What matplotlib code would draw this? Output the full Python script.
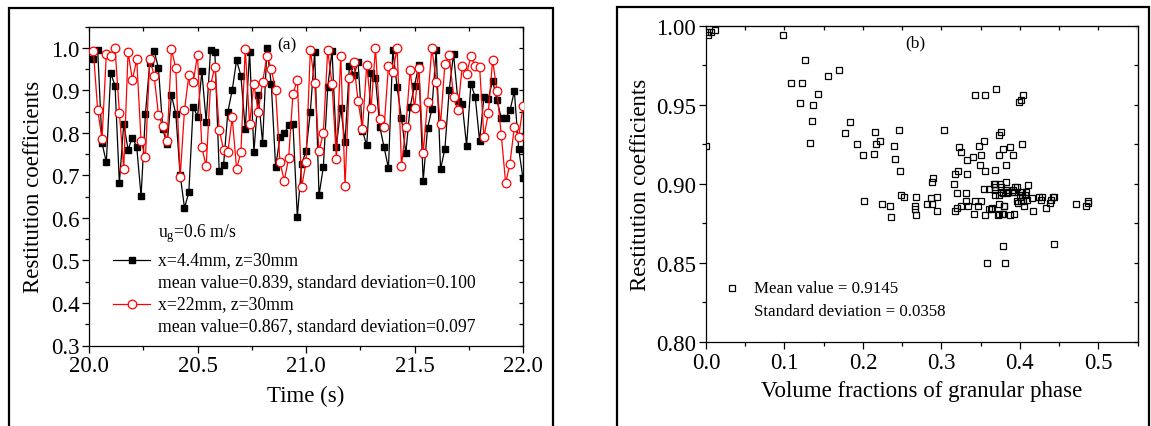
import numpy as np
import matplotlib
matplotlib.use("Agg")
import matplotlib.pyplot as plt
from matplotlib.patches import Rectangle
from matplotlib.ticker import MultipleLocator, FormatStrFormatter

plt.rcParams["font.family"] = ["Liberation Serif", "DejaVu Serif"]
plt.rcParams["mathtext.fontset"] = "custom"
plt.rcParams["mathtext.rm"] = "Liberation Serif"
plt.rcParams["mathtext.it"] = "Liberation Serif:italic"

# ---------------- panel (a): time series ----------------
time = np.round(20.02 + 0.02 * np.arange(100), 2)

coef_x44 = [
    0.974, 0.996, 0.776, 0.731, 0.941, 0.911, 0.682, 0.821, 0.761, 0.789,
    0.767, 0.651, 0.845, 0.965, 0.993, 0.953, 0.809, 0.773, 0.889, 0.845,
    0.702, 0.624, 0.660, 0.862, 0.838, 0.945, 0.826, 0.995, 0.990, 0.710,
    0.724, 0.850, 0.901, 0.971, 0.935, 0.809, 0.991, 0.756, 0.889, 0.776,
    0.999, 0.915, 0.720, 0.790, 0.799, 0.818, 0.821, 0.603, 0.727, 0.757,
    0.850, 0.990, 0.653, 0.721, 0.907, 0.994, 0.768, 0.859, 0.778, 0.958,
    0.937, 0.966, 0.805, 0.771, 0.940, 0.929, 0.815, 0.766, 0.717, 0.996,
    0.907, 0.835, 0.752, 0.862, 0.911, 0.960, 0.687, 0.811, 0.856, 0.996,
    0.715, 0.762, 0.902, 0.986, 0.876, 0.868, 0.770, 0.916, 0.884, 0.781,
    0.885, 0.880, 0.923, 0.877, 0.835, 0.835, 0.853, 0.898, 0.763, 0.693,
]

coef_x22 = [
    0.994, 0.854, 0.786, 0.986, 0.982, 1.000, 0.848, 0.716, 0.990, 0.925,
    0.973, 0.780, 0.743, 0.974, 0.935, 0.843, 0.816, 0.780, 0.997, 0.952,
    0.696, 0.853, 0.936, 0.919, 0.984, 0.766, 0.722, 0.912, 0.956, 0.808,
    0.761, 0.755, 0.837, 0.715, 0.755, 0.998, 0.821, 0.915, 0.850, 0.919,
    0.982, 0.951, 0.900, 0.731, 0.688, 0.741, 0.892, 0.925, 0.673, 0.731,
    0.996, 0.917, 0.758, 0.799, 0.995, 0.915, 0.739, 0.982, 0.676, 0.929,
    0.966, 0.875, 0.810, 0.961, 0.858, 1.000, 0.833, 0.813, 0.958, 0.943,
    1.000, 0.723, 0.813, 0.948, 0.858, 0.952, 0.752, 0.872, 1.000, 0.921,
    0.821, 0.962, 0.984, 0.885, 0.853, 0.958, 0.939, 0.981, 0.957, 0.956,
    0.790, 0.846, 0.972, 0.898, 0.795, 0.682, 0.728, 0.815, 0.790, 0.863,
]

label_x44 = "x=4.4mm, z=30mm"
stats_x44 = "mean value=0.839, standard deviation=0.100"
label_x22 = "x=22mm, z=30mm"
stats_x22 = "mean value=0.867, standard deviation=0.097"
gas_velocity = "u$_\\mathrm{g}$=0.6 m/s"

# ---------------- panel (b): scatter ----------------
vol_frac = [
    0.001, 0.002, 0.007, 0.012, 0.000, 0.098, 0.126, 0.108, 0.123, 0.155,
    0.169, 0.143, 0.120, 0.137, 0.135, 0.132, 0.184, 0.177, 0.192, 0.200,
    0.216, 0.217, 0.222, 0.214, 0.246, 0.240, 0.241, 0.247, 0.303, 0.202,
    0.224, 0.234, 0.236, 0.249, 0.252, 0.266, 0.268, 0.266, 0.268, 0.282,
    0.287, 0.288, 0.288, 0.289, 0.295, 0.295, 0.316, 0.317, 0.321, 0.320,
    0.318, 0.320, 0.325, 0.323, 0.325, 0.333, 0.333, 0.340, 0.348, 0.349,
    0.350, 0.354, 0.356, 0.343, 0.356, 0.370, 0.374, 0.376, 0.373, 0.378,
    0.382, 0.388, 0.391, 0.368, 0.403, 0.399, 0.401, 0.404, 0.332, 0.332,
    0.334, 0.342, 0.343, 0.347, 0.351, 0.354, 0.356, 0.361, 0.363, 0.364,
    0.367, 0.368, 0.368, 0.368, 0.369, 0.372, 0.373, 0.374, 0.375, 0.376,
    0.376, 0.377, 0.378, 0.380, 0.382, 0.383, 0.384, 0.385, 0.388, 0.390,
    0.391, 0.393, 0.394, 0.397, 0.397, 0.398, 0.400, 0.401, 0.403, 0.404,
    0.405, 0.407, 0.408, 0.409, 0.410, 0.417, 0.416, 0.424, 0.427, 0.428,
    0.433, 0.438, 0.440, 0.442, 0.443, 0.444, 0.471, 0.484, 0.487, 0.487,
    0.358, 0.381, 0.378, 0.378, 0.393, 0.361, 0.380, 0.374, 0.401, 0.403,
]

restitution = [
    0.996, 0.994, 0.996, 0.997, 0.924, 0.994, 0.978, 0.964, 0.964, 0.968,
    0.972, 0.957, 0.951, 0.950, 0.940, 0.926, 0.939, 0.932, 0.925, 0.918,
    0.933, 0.925, 0.927, 0.919, 0.934, 0.924, 0.916, 0.908, 0.934, 0.889,
    0.887, 0.886, 0.879, 0.893, 0.892, 0.886, 0.892, 0.884, 0.880, 0.887,
    0.891, 0.887, 0.901, 0.904, 0.892, 0.883, 0.900, 0.906, 0.908, 0.894,
    0.883, 0.885, 0.886, 0.923, 0.920, 0.915, 0.906, 0.917, 0.924, 0.912,
    0.918, 0.927, 0.908, 0.956, 0.956, 0.960, 0.931, 0.933, 0.918, 0.922,
    0.912, 0.923, 0.918, 0.909, 0.925, 0.952, 0.953, 0.956, 0.894, 0.889,
    0.886, 0.881, 0.889, 0.886, 0.889, 0.897, 0.880, 0.884, 0.884, 0.885,
    0.900, 0.898, 0.896, 0.893, 0.900, 0.880, 0.881, 0.887, 0.900, 0.898,
    0.895, 0.881, 0.894, 0.886, 0.901, 0.896, 0.894, 0.895, 0.880, 0.895,
    0.896, 0.881, 0.898, 0.898, 0.889, 0.888, 0.892, 0.889, 0.895, 0.889,
    0.886, 0.893, 0.895, 0.890, 0.899, 0.883, 0.891, 0.892, 0.890, 0.892,
    0.885, 0.888, 0.890, 0.892, 0.892, 0.862, 0.887, 0.886, 0.889, 0.888,
    0.850, 0.850, 0.861, 0.881, 0.895, 0.897, 0.886, 0.893, 0.895, 0.893,
]

mean_text = "Mean value = 0.9145"
std_text = "Standard deviation = 0.0358"

W, H = 1151, 427
fig = plt.figure(figsize=(W / 100, H / 100), dpi=100)
fig.patch.set_facecolor("white")


def fig_box(x0, x1, top):
    """Open-bottomed frame around one panel, in pixel units."""
    rect = Rectangle((x0 / W, -0.1), (x1 - x0) / W, 1.1 - top / H,
                     transform=fig.transFigure, fill=False,
                     edgecolor="black", linewidth=1.6, clip_on=False)
    fig.add_artist(rect)


fig_box(9, 553, 8.5)
fig_box(617, 1149, 8.0)


def style_axes(ax, top_step, right_step):
    for s in ax.spines.values():
        s.set_linewidth(0.9)
    ax.tick_params(axis="both", which="both", direction="out",
                   labelsize=16.5, width=0.9, pad=2)
    ax.tick_params(which="major", length=5)
    ax.tick_params(which="minor", length=3)
    # small inward ticks mirrored on the top and right spines
    top = ax.secondary_xaxis("top")
    top.xaxis.set_major_locator(MultipleLocator(top_step))
    top.tick_params(direction="in", length=3, width=0.9)
    top.set_xticklabels([])
    right = ax.secondary_yaxis("right")
    right.yaxis.set_major_locator(MultipleLocator(right_step))
    right.tick_params(direction="in", length=3, width=0.9)
    right.set_yticklabels([])


# ----- left panel -----
axa = fig.add_axes([89 / W, 1 - 346.5 / H, (523 - 89) / W, (346.5 - 27.7) / H])
axa.plot(time, coef_x44, color="black", lw=0.9, marker="s", ms=4.6,
         mfc="black", mec="black", zorder=3)
axa.plot(time, coef_x22, color="red", lw=0.9, marker="o", ms=6.2,
         mfc="white", mec="red", mew=0.9, zorder=4)
axa.set_xlim(20.0, 22.0)
axa.set_ylim(0.3, 1.05)
axa.xaxis.set_major_locator(MultipleLocator(0.5))
axa.xaxis.set_minor_locator(MultipleLocator(0.25))
axa.yaxis.set_major_locator(MultipleLocator(0.1))
axa.yaxis.set_minor_locator(MultipleLocator(0.05))
axa.xaxis.set_major_formatter(FormatStrFormatter("%.1f"))
axa.yaxis.set_major_formatter(FormatStrFormatter("%.1f"))
style_axes(axa, 0.25, 0.05)
axa.set_xlabel("Time (s)", fontsize=16.5, labelpad=6)
axa.set_ylabel("Restitution coefficients", fontsize=16.5, labelpad=5)

axa.text(0.456, 0.946, "(a)", transform=axa.transAxes, fontsize=12.5,
         ha="center", va="center")
axa.text(0.159, 0.355, gas_velocity, transform=axa.transAxes, fontsize=12.7,
         ha="left", va="center")
axa.plot([0.055, 0.141], [0.268, 0.268], transform=axa.transAxes,
         color="black", lw=0.9, clip_on=False)
axa.plot([0.099], [0.268], transform=axa.transAxes, marker="s", ms=4.6,
         color="black", clip_on=False)
axa.text(0.159, 0.268, label_x44, transform=axa.transAxes, fontsize=12.7,
         ha="left", va="center")
axa.text(0.159, 0.199, stats_x44, transform=axa.transAxes, fontsize=12.7,
         ha="left", va="center")
axa.plot([0.055, 0.141], [0.130, 0.130], transform=axa.transAxes,
         color="red", lw=0.9, clip_on=False)
axa.plot([0.099], [0.130], transform=axa.transAxes, marker="o", ms=6.2,
         mfc="white", mec="red", mew=0.9, clip_on=False)
axa.text(0.159, 0.130, label_x22, transform=axa.transAxes, fontsize=12.7,
         ha="left", va="center")
axa.text(0.159, 0.061, stats_x22, transform=axa.transAxes, fontsize=12.7,
         ha="left", va="center")

# ----- right panel -----
axb = fig.add_axes([706 / W, 1 - 343 / H, (1137.5 - 706) / W, (343 - 26.7) / H])
axb.plot(vol_frac, restitution, linestyle="none", marker="s", ms=4.6,
         mfc="none", mec="black", mew=0.9, clip_on=True)
axb.set_xlim(0.0, 0.55)
axb.set_ylim(0.80, 1.00)
axb.xaxis.set_major_locator(MultipleLocator(0.1))
axb.xaxis.set_minor_locator(MultipleLocator(0.05))
axb.yaxis.set_major_locator(MultipleLocator(0.05))
axb.yaxis.set_minor_locator(MultipleLocator(0.025))
axb.xaxis.set_major_formatter(FormatStrFormatter("%.1f"))
axb.yaxis.set_major_formatter(FormatStrFormatter("%.2f"))
style_axes(axb, 0.05, 0.025)
axb.set_xlabel("Volume fractions of granular phase", fontsize=16.5, labelpad=5)
axb.set_ylabel("Restitution coefficients", fontsize=16.5, labelpad=4)

axb.text(0.485, 0.948, "(b)", transform=axb.transAxes, fontsize=12.5,
         ha="center", va="center")
axb.plot([0.060], [0.171], transform=axb.transAxes, marker="s", ms=4.6,
         mfc="none", mec="black", mew=0.9, clip_on=False)
axb.text(0.111, 0.171, mean_text, transform=axb.transAxes, fontsize=12.2,
         ha="left", va="center")
axb.text(0.111, 0.098, std_text, transform=axb.transAxes, fontsize=12.2,
         ha="left", va="center")

fig.savefig("out.png", dpi=100, facecolor="white")
